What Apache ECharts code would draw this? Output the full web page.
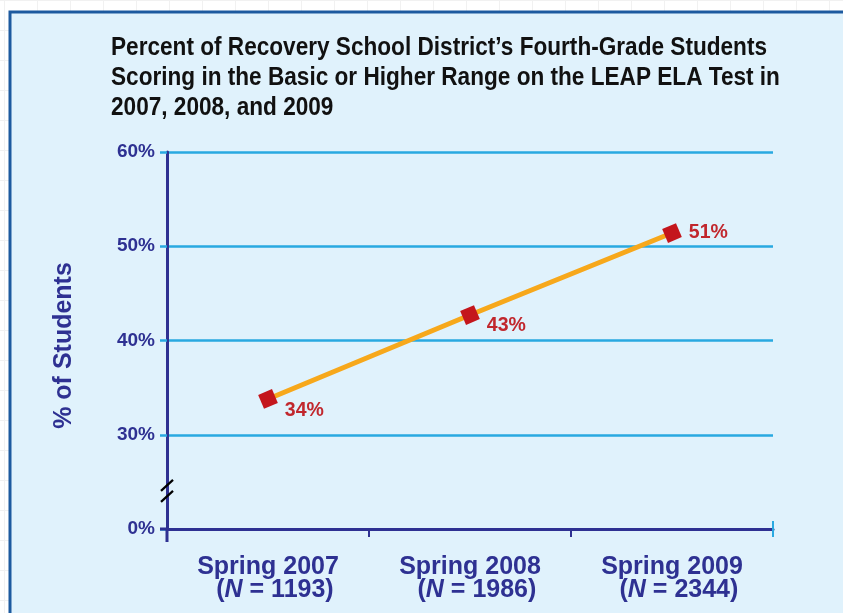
<!DOCTYPE html>
<html>
<head>
<meta charset="utf-8">
<script src="https://cdn.jsdelivr.net/npm/echarts@6.0.0/dist/echarts.min.js"></script>
<style>
html,body{margin:0;padding:0;}
body{width:843px;height:613px;overflow:hidden;background-color:#fff;
background-image:linear-gradient(#f1f1f1 1px,transparent 1px),linear-gradient(90deg,#f1f1f1 1px,transparent 1px);
background-size:33px 30px;background-position:4px 0;}
#c{width:843px;height:613px;}
</style>
</head>
<body>
<div id="c"></div>
<script>
var titleLines = ["Percent of Recovery School District\u2019s Fourth-Grade Students", "Scoring in the Basic or Higher Range on the LEAP ELA Test in", "2007, 2008, and 2009"];
var categories = ["Spring 2007", "Spring 2008", "Spring 2009"];
var sampleSizes = ["1193", "1986", "2344"];
var values = [33.8, 42.7, 51.4];
var yTicks = [20, 30, 40, 50, 60];
var yTickLabels = ["0%", "30%", "40%", "50%", "60%"];
var yAxisName = "% of Students";

var FONT = '"Liberation Sans", Arial, Helvetica, sans-serif';
var DARK = "#2e3192", GRID = "#29a9e1", RED = "#c1272d", ORANGE = "#f7a81b";
var chart = echarts.init(document.getElementById('c'), null, {renderer: 'canvas'});
var labelOffsets = [[2, 12], [2, 11], [2, 0]];

// horizontal condensing factor for the title (reference uses a condensed face)
var TITLE_SIZE = 25;
var cv = document.createElement('canvas').getContext('2d');
cv.font = 'bold ' + TITLE_SIZE + 'px ' + FONT;
var w1 = cv.measureText(titleLines[0]).width;
var titleScale = 656 / w1;

var option = {
  backgroundColor: 'transparent',
  animation: false,
  grid: {left: 167, right: 70, top: 152, bottom: 84, containLabel: false},
  xAxis: {
    type: 'category',
    data: categories,
    boundaryGap: true,
    axisLine: {lineStyle: {color: DARK, width: 3}},
    axisTick: {show: true, inside: false, length: 8, lineStyle: {color: DARK, width: 2}},
    axisLabel: {
      margin: 27,
      formatter: function (v, i) {
        return '{a|' + v + '}\n{b|\u00a0\u00a0(}{i|N}{b| = ' + sampleSizes[i] + ')}';
      },
      rich: {
        a: {fontFamily: FONT, fontWeight: 'bold', fontSize: 25, color: DARK, lineHeight: 23},
        b: {fontFamily: FONT, fontWeight: 'bold', fontSize: 25, color: DARK, lineHeight: 23},
        i: {fontFamily: FONT, fontWeight: 'bold', fontStyle: 'italic', fontSize: 25, color: DARK, lineHeight: 23}
      }
    }
  },
  yAxis: {
    type: 'value',
    min: 20, max: 60, interval: 10,
    name: yAxisName,
    nameLocation: 'middle',
    nameGap: 90,
    nameRotate: 90,
    nameTextStyle: {fontFamily: FONT, fontWeight: 'bold', fontSize: 25, color: DARK, padding: [0, 10, 0, 0]},
    axisLine: {show: true, lineStyle: {color: DARK, width: 3}},
    axisTick: {show: true, length: 7, lineStyle: {color: GRID, width: 2.5}},
    splitLine: {show: true, lineStyle: {color: GRID, width: 2.5}},
    axisLabel: {
      margin: 12,
      fontFamily: FONT, fontWeight: 'bold', fontSize: 19, color: DARK,
      formatter: function (v) { var i = yTicks.indexOf(v); return i >= 0 ? yTickLabels[i] : ''; }
    }
  },
  series: [{
    type: 'line',
    data: values.map(function (v, i) { return {value: v, label: {offset: labelOffsets[i]}}; }),
    lineStyle: {color: ORANGE, width: 5},
    symbol: 'rect',
    symbolSize: 15,
    symbolRotate: 23,
    itemStyle: {color: '#c4161c'},
    z: 5,
    label: {
      show: true, position: 'right', distance: 5,
      fontFamily: FONT, fontWeight: 'bold', fontSize: 19.5, color: RED,
      formatter: function (p) { return Math.round(p.value) + '%'; }
    }
  }]
};
chart.setOption(option);

// decorations: panel, title, axis extensions and axis break marks
var yBottom = chart.convertToPixel({yAxisIndex: 0}, 20);
var yBreak = chart.convertToPixel({yAxisIndex: 0}, 25);
var axisX = 167;
chart.setOption({
  graphic: [
    {type: 'rect', z: -10, silent: true, shape: {x: 10, y: 12, width: 900, height: 700},
     style: {fill: '#e0f2fc', stroke: '#1d5a9f', lineWidth: 3}},
    {type: 'text', z: 10, silent: true, x: 111, y: 33, scaleX: titleScale,
     style: {text: titleLines.join('\n'), font: 'bold ' + TITLE_SIZE + 'px ' + FONT, lineHeight: 30, fill: '#111', verticalAlign: 'top', align: 'left'}},
    {type: 'line', z: 10, silent: true, shape: {x1: axisX - 7, y1: yBottom, x2: axisX, y2: yBottom}, style: {stroke: DARK, lineWidth: 3}},
    {type: 'line', z: 10, silent: true, shape: {x1: axisX, y1: yBottom, x2: axisX, y2: yBottom + 13}, style: {stroke: DARK, lineWidth: 3}},
    {type: 'line', z: 10, silent: true, shape: {x1: axisX - 6, y1: yBreak + 9, x2: axisX + 6, y2: yBreak - 2}, style: {stroke: '#000', lineWidth: 2.2}},
    {type: 'line', z: 10, silent: true, shape: {x1: axisX - 6, y1: yBreak + 20, x2: axisX + 6, y2: yBreak + 9}, style: {stroke: '#000', lineWidth: 2.2}},
    {type: 'line', z: 10, silent: true, shape: {x1: 773, y1: yBottom - 8, x2: 773, y2: yBottom + 8}, style: {stroke: GRID, lineWidth: 2}}
  ]
});
</script>
</body>
</html>
